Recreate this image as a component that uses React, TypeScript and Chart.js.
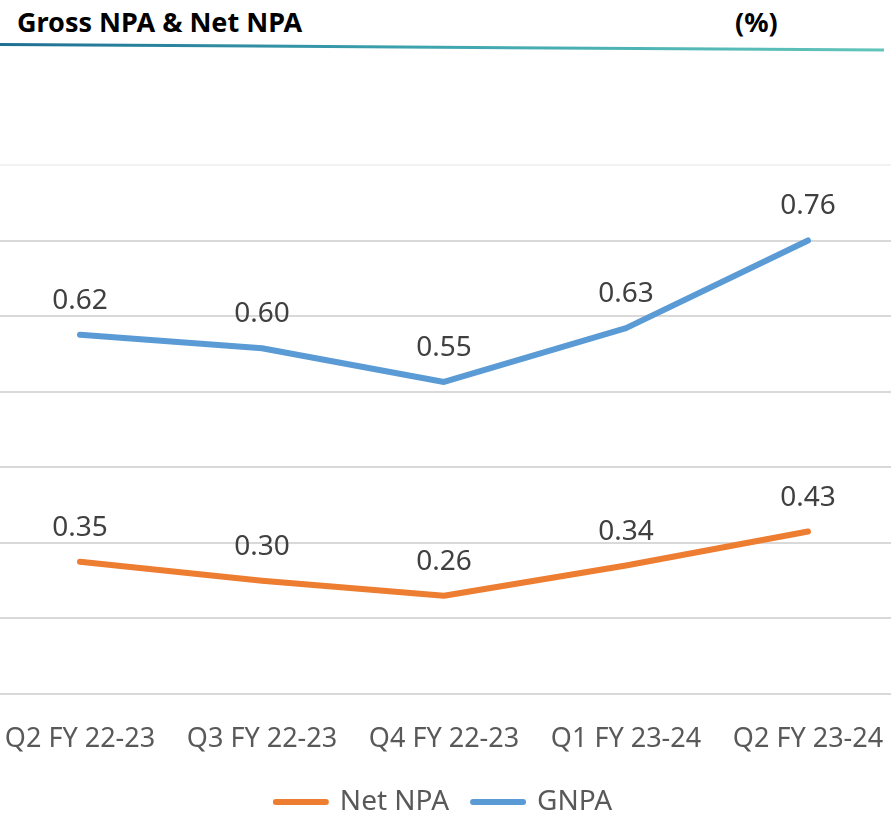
import React, { useEffect, useRef } from "react";
import { Chart, registerables } from "chart.js";

Chart.register(...registerables);

const categories = ["Q2 FY 22-23", "Q3 FY 22-23", "Q4 FY 22-23", "Q1 FY 23-24", "Q2 FY 23-24"];
const netNpa = [0.35, 0.30, 0.26, 0.34, 0.43];
const gnpa = [0.62, 0.60, 0.55, 0.63, 0.76];
const seriesNames = ["Net NPA", "GNPA"];
const titleText = "Gross NPA & Net NPA";
const unitText = "(%)";

const FONT = "'Noto Sans', 'Open Sans', sans-serif";

const dataLabelPlugin = {
  id: "pointLabels",
  afterDatasetsDraw(chart: any) {
    const ctx = chart.ctx;
    ctx.save();
    ctx.font = `28px ${FONT}`;
    ctx.fillStyle = "#404040";
    ctx.textAlign = "center";
    ctx.textBaseline = "alphabetic";
    chart.data.datasets.forEach((ds: any, i: number) => {
      const meta = chart.getDatasetMeta(i);
      meta.data.forEach((pt: any, j: number) => {
        const v = ds.data[j] as number;
        ctx.fillText(v.toFixed(2), pt.x, pt.y - 26);
      });
    });
    ctx.restore();
  },
};

export default function App() {
  const ref = useRef<HTMLCanvasElement | null>(null);

  useEffect(() => {
    if (!ref.current) return;
    const chart = new Chart(ref.current, {
      type: "line",
      data: {
        labels: categories,
        datasets: [
          {
            label: seriesNames[0],
            data: netNpa,
            borderColor: "#ed7d31",
            backgroundColor: "#ed7d31",
            borderWidth: 6,
            pointRadius: 0,
            pointHoverRadius: 0,
            borderCapStyle: "round",
            borderJoinStyle: "round",
            tension: 0,
            yAxisID: "y",
          },
          {
            label: seriesNames[1],
            data: gnpa,
            borderColor: "#5b9bd5",
            backgroundColor: "#5b9bd5",
            borderWidth: 6,
            pointRadius: 0,
            pointHoverRadius: 0,
            borderCapStyle: "round",
            borderJoinStyle: "round",
            tension: 0,
            yAxisID: "y1",
          },
        ],
      },
      options: {
        responsive: false,
        animation: false,
        devicePixelRatio: 1,
        layout: { padding: { top: 165, left: 0, right: 0, bottom: 0 } },
        scales: {
          x: {
            offset: true,
            grid: { display: false, drawTicks: false },
            border: { display: false },
            ticks: {
              padding: 3,
              color: "#595959",
              font: { family: FONT, size: 27, lineHeight: "84px" },
              maxRotation: 0,
              autoSkip: false,
            },
            afterFit: (axis: any) => {
              axis.height -= 20;
            },
          },
          y: {
            min: 0,
            max: 1.4,
            ticks: { display: false, stepSize: 0.2 },
            grid: {
              drawTicks: false,
              lineWidth: 2,
              color: (c: any) => (c.tick && Math.abs(c.tick.value - 1.4) < 1e-6 ? "#f2f2f2" : "#d9d9d9"),
            },
            border: { display: false },
          },
          y1: {
            display: false,
            min: 0.087,
            max: 0.872,
          },
        },
        plugins: {
          legend: {
            position: "bottom",
            labels: {
              boxWidth: 50,
              boxHeight: 0,
              padding: 24,
              color: "#595959",
              font: { family: FONT, size: 28 },
            },
          },
          tooltip: { enabled: false },
          title: { display: false },
        },
      },
      plugins: [dataLabelPlugin],
    } as any);
    return () => chart.destroy();
  }, []);

  const headStyle: React.CSSProperties = {
    position: "absolute",
    top: 8,
    fontFamily: FONT,
    fontWeight: 700,
    fontSize: 27,
    lineHeight: "27px",
    color: "#000000",
    whiteSpace: "nowrap",
  };

  return (
    <div
      style={{
        position: "fixed",
        left: 0,
        top: 0,
        width: 891,
        height: 816,
        overflow: "hidden",
        background: "#ffffff",
      }}
    >
      <div style={{ ...headStyle, left: 17 }}>{titleText}</div>
      <div style={{ ...headStyle, left: 735 }}>{unitText}</div>
      <svg width={891} height={60} style={{ position: "absolute", left: 0, top: 0 }}>
        <defs>
          <linearGradient id="teal" x1="0" y1="0" x2="1" y2="0">
            <stop offset="0" stopColor="#1e6f93" />
            <stop offset="0.5" stopColor="#3fa6b0" />
            <stop offset="1" stopColor="#62c5ba" />
          </linearGradient>
        </defs>
        <line x1={0} y1={44.5} x2={884} y2={50} stroke="url(#teal)" strokeWidth={3} />
      </svg>
      <canvas
        ref={ref}
        width={910}
        height={826}
        style={{ position: "absolute", left: -11, top: 0, width: 910, height: 826 }}
      />
    </div>
  );
}
